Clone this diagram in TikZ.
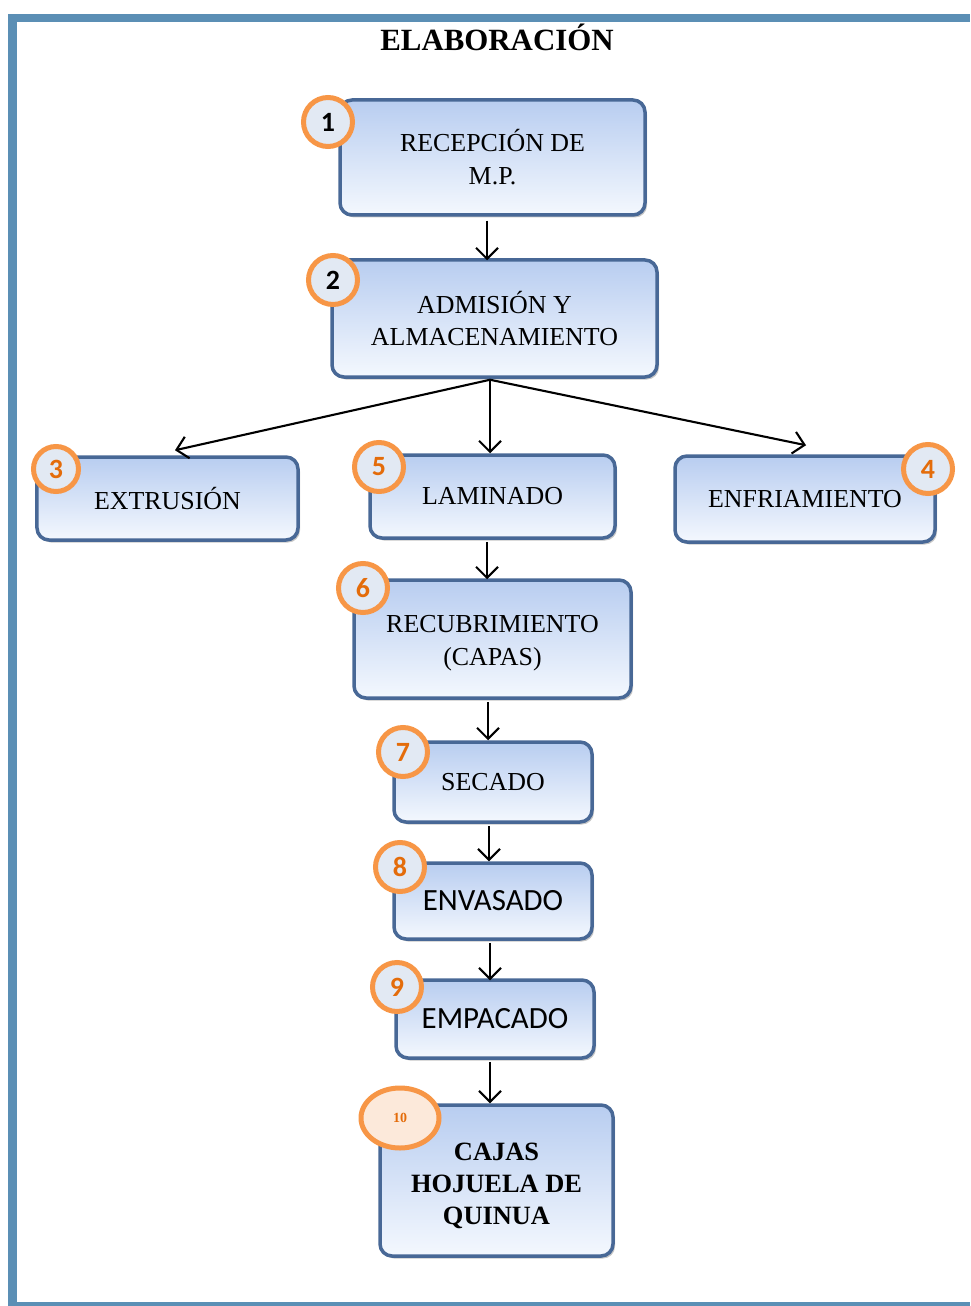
\documentclass[tikz,border=0pt]{standalone}
\usepackage{fontspec}
\setmainfont{Liberation Serif}
\newfontfamily\calfont{Carlito}
\usetikzlibrary{arrows.meta,calc,shadows,shapes.geometric}
\definecolor{frameblue}{RGB}{91,143,181}
\definecolor{boxedge}{RGB}{72,104,150}
\definecolor{boxtop}{RGB}{184,205,240}
\definecolor{boxbot}{RGB}{244,248,254}
\definecolor{ringorange}{RGB}{247,150,70}
\definecolor{numorange}{RGB}{228,108,10}
\definecolor{circfill}{RGB}{226,233,243}
\definecolor{peach}{RGB}{252,233,218}
\begin{document}
\begin{tikzpicture}[x=1bp,y=-1bp,
  stepbox/.style={rounded corners=12bp, draw=boxedge, line width=3.5bp,
    top color=boxtop, bottom color=boxbot, align=center, inner sep=0pt,
    font=\fontsize{26}{33}\selectfont,
    drop shadow={shadow xshift=2bp, shadow yshift=-2.5bp, opacity=0.45}},
  calbox/.style={stepbox, font=\calfont\fontsize{31}{33}\selectfont},
  boldbox/.style={stepbox, font=\bfseries\fontsize{26.5}{32}\selectfont},
  numring/.style={circle, draw=ringorange, line width=5bp, fill=circfill,
    minimum size=49bp, inner sep=0pt, text=numorange,
    font=\calfont\bfseries\fontsize{28}{28}\selectfont},
  arr/.style={line width=2.1bp, -{Straight Barb[length=11bp,width=22bp,line width=2.1bp]}}
]
\useasboundingbox (0,0) rectangle (970,1306);
% frame bands
\fill[frameblue] (8,14) rectangle (970,22);
\fill[frameblue] (8,14) rectangle (17,1306);
\fill[frameblue] (8,1302) rectangle (970,1306);

% title
\node[font=\bfseries\fontsize{31}{31}\selectfont, anchor=base] (title) at (497,51) {ELABORACIÓN};

% boxes
\node[stepbox, minimum width=305bp, minimum height=115bp] (n1) at (492.5,157.5) {RECEPCIÓN DE\\M.P.};
\node[stepbox, minimum width=325bp, minimum height=117bp] (n2) at (494.5,318.5) {ADMISIÓN Y\\ALMACENAMIENTO};
\node[stepbox, minimum width=261bp, minimum height=83bp] (n3) at (167.5,498.5) {EXTRUSIÓN};
\node[stepbox, minimum width=245bp, minimum height=83bp] (n5) at (492.5,496.5) {LAMINADO};
\node[stepbox, minimum width=260bp, minimum height=86bp] (n4) at (805,499) {ENFRIAMIENTO};
\node[stepbox, minimum width=277bp, minimum height=118bp] (n6) at (492.5,639) {\rule{0pt}{25bp}RECUBRIMIENTO\\(CAPAS)};
\node[stepbox, minimum width=198bp, minimum height=80bp] (n7) at (493,782) {SECADO};
\node[calbox, minimum width=198bp, minimum height=76bp] (n8) at (493,901) {ENVASADO};
\node[calbox, minimum width=198bp, minimum height=78bp] (n9) at (495,1019) {EMPACADO};
\node[boldbox, minimum width=233bp, minimum height=151bp] (n10) at (496.5,1180.5) {\rule{0pt}{28bp}CAJAS\\HOJUELA DE\\QUINUA};

% connectors
\draw[arr] ($(n1.south)+(-5.5,4)$) -- ($(n2.north)+(-7.5,2)$);
\coordinate (split) at ($(n2.south)+(-4.5,1)$);
\draw[arr] (split) -- ($(n3.north)+(7.5,-5)$);
\draw[arr] (split) -- ($(n5.north)+(-2.5,0)$);
\draw[arr] (split) -- ($(n4.north)+(1,-9)$);
\draw[arr] ($(n5.south)+(-5.5,2)$) -- ($(n6.north)+(-5.5,1)$);
\draw[arr] ($(n6.south)+(-4.5,2)$) -- ($(n7.north)+(-5,0)$);
\draw[arr] ($(n7.south)+(-4,2)$) -- ($(n8.north)+(-4,0)$);
\draw[arr] ($(n8.south)+(-3,2)$) -- ($(n9.north)+(-5,2)$);
\draw[arr] ($(n9.south)+(-5,2)$) -- ($(n10.north)+(-6.5,0)$);

% number badges
\node[numring, text=black] (c1) at (328,122) {1};
\node[numring, text=black] (c2) at (333,280) {2};
\node[numring, minimum size=45bp] (c3) at (56,469) {3};
\node[numring] (c5) at (379,467) {5};
\node[numring] (c4) at (928,469) {4};
\node[numring] (c6) at (363,588) {6};
\node[numring] (c7) at (403,752) {7};
\node[numring] (c8) at (400,867) {8};
\node[numring] (c9) at (397,987) {9};
\node[ellipse, draw=ringorange, line width=5bp, fill=peach, minimum width=78bp,
  minimum height=60bp, inner sep=0pt, text=numorange,
  font=\bfseries\fontsize{14}{14}\selectfont] (c10) at (400,1118) {10};
\end{tikzpicture}
\end{document}
